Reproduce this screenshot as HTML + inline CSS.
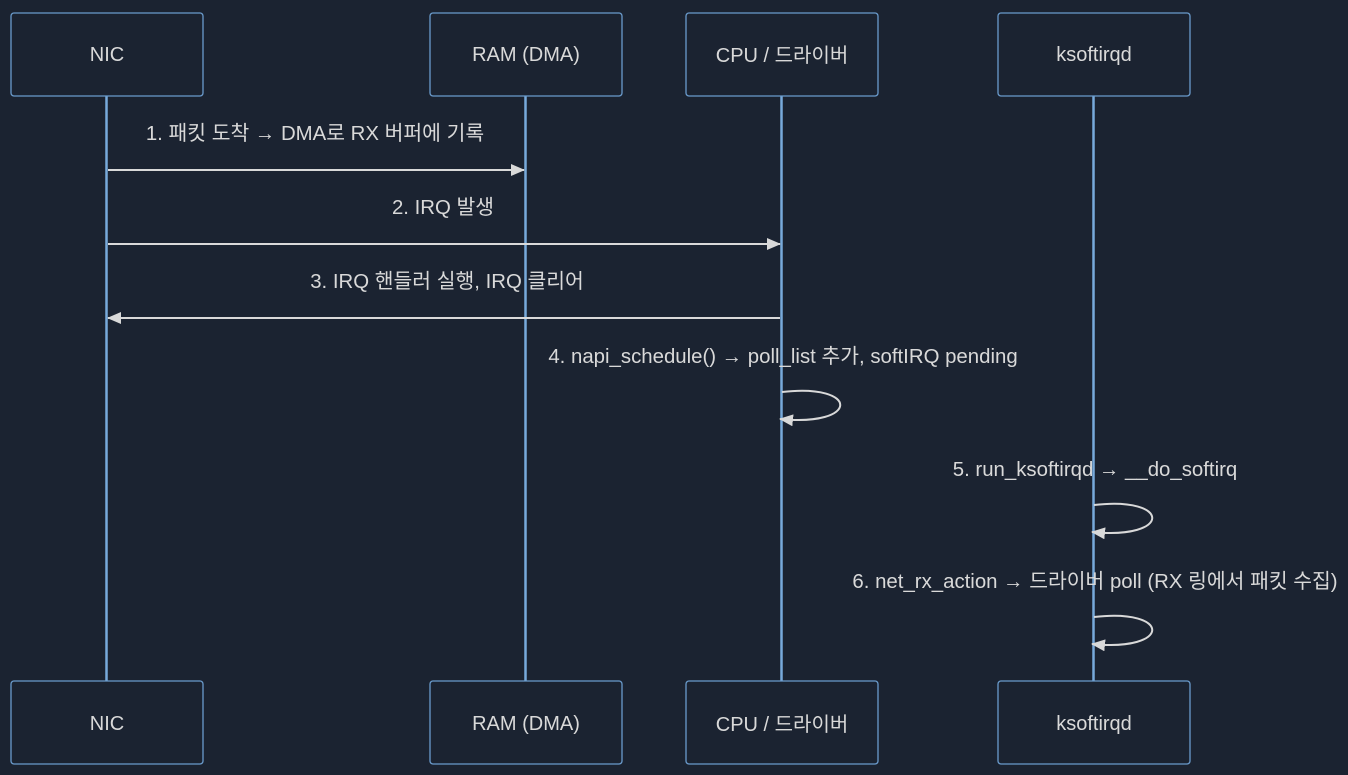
<!DOCTYPE html>
<html><head><meta charset="utf-8"><style>
html,body{margin:0;padding:0;background:#1b2331;overflow:hidden;}
svg{display:block;}
svg text{font-family:"Liberation Sans","Noto Sans CJK KR",sans-serif;fill:#d9d9d9;}
</style></head><body>
<svg width="1348" height="775" viewBox="0 0 1348 775" xmlns="http://www.w3.org/2000/svg">
<defs><marker id="a" markerWidth="14" markerHeight="12" refX="13" refY="6" orient="auto" markerUnits="userSpaceOnUse"><path d="M0,0 L14,6 L0,12 z" fill="#d9d9d9"/></marker></defs>
<rect width="1348" height="775" fill="#1b2331"/>
<g stroke="#78aadb" stroke-width="2.5">
<line x1="106.5" y1="96" x2="106.5" y2="681"/>
<line x1="525.5" y1="96" x2="525.5" y2="681"/>
<line x1="781.5" y1="96" x2="781.5" y2="681"/>
<line x1="1093.5" y1="96" x2="1093.5" y2="681"/>
</g>
<g fill="#1b2331" stroke="#6a9bcc" stroke-width="1.3">
<rect x="11" y="13" width="192" height="83" rx="3"/>
<rect x="430" y="13" width="192" height="83" rx="3"/>
<rect x="686" y="13" width="192" height="83" rx="3"/>
<rect x="998" y="13" width="192" height="83" rx="3"/>
<rect x="11" y="681" width="192" height="83" rx="3"/>
<rect x="430" y="681" width="192" height="83" rx="3"/>
<rect x="686" y="681" width="192" height="83" rx="3"/>
<rect x="998" y="681" width="192" height="83" rx="3"/>
</g>
<g font-size="20" text-anchor="middle">
<text x="107" y="61">NIC</text><text x="526" y="61">RAM (DMA)</text><text x="782" y="62">CPU / 드라이버</text><text x="1094" y="61">ksoftirqd</text>
<text x="107" y="730">NIC</text><text x="526" y="730">RAM (DMA)</text><text x="782" y="731">CPU / 드라이버</text><text x="1094" y="730">ksoftirqd</text>
</g>
<g font-size="20.4" text-anchor="middle">
<text x="315" y="140">1. 패킷 도착 → DMA로 RX 버퍼에 기록</text>
<text x="443" y="214">2. IRQ 발생</text>
<text x="447" y="288">3. IRQ 핸들러 실행, IRQ 클리어</text>
<text x="783" y="363">4. napi_schedule() → poll_list 추가, softIRQ pending</text>
<text x="1095" y="476">5. run_ksoftirqd → __do_softirq</text>
<text x="1095" y="588">6. net_rx_action → 드라이버 poll (RX 링에서 패킷 수집)</text>
</g>
<g stroke="#d9d9d9" stroke-width="2" fill="none" marker-end="url(#a)">
<line x1="108" y1="170" x2="524" y2="170"/>
<line x1="108" y1="244" x2="780" y2="244"/>
<line x1="780" y1="318" x2="108" y2="318"/>
<path d="M782 392 C 860 383, 860 427, 780 419"/>
<path d="M1094 505 C 1172 496, 1172 540, 1092 532"/>
<path d="M1094 617 C 1172 608, 1172 652, 1092 644"/>
</g>
</svg>
</body></html>
